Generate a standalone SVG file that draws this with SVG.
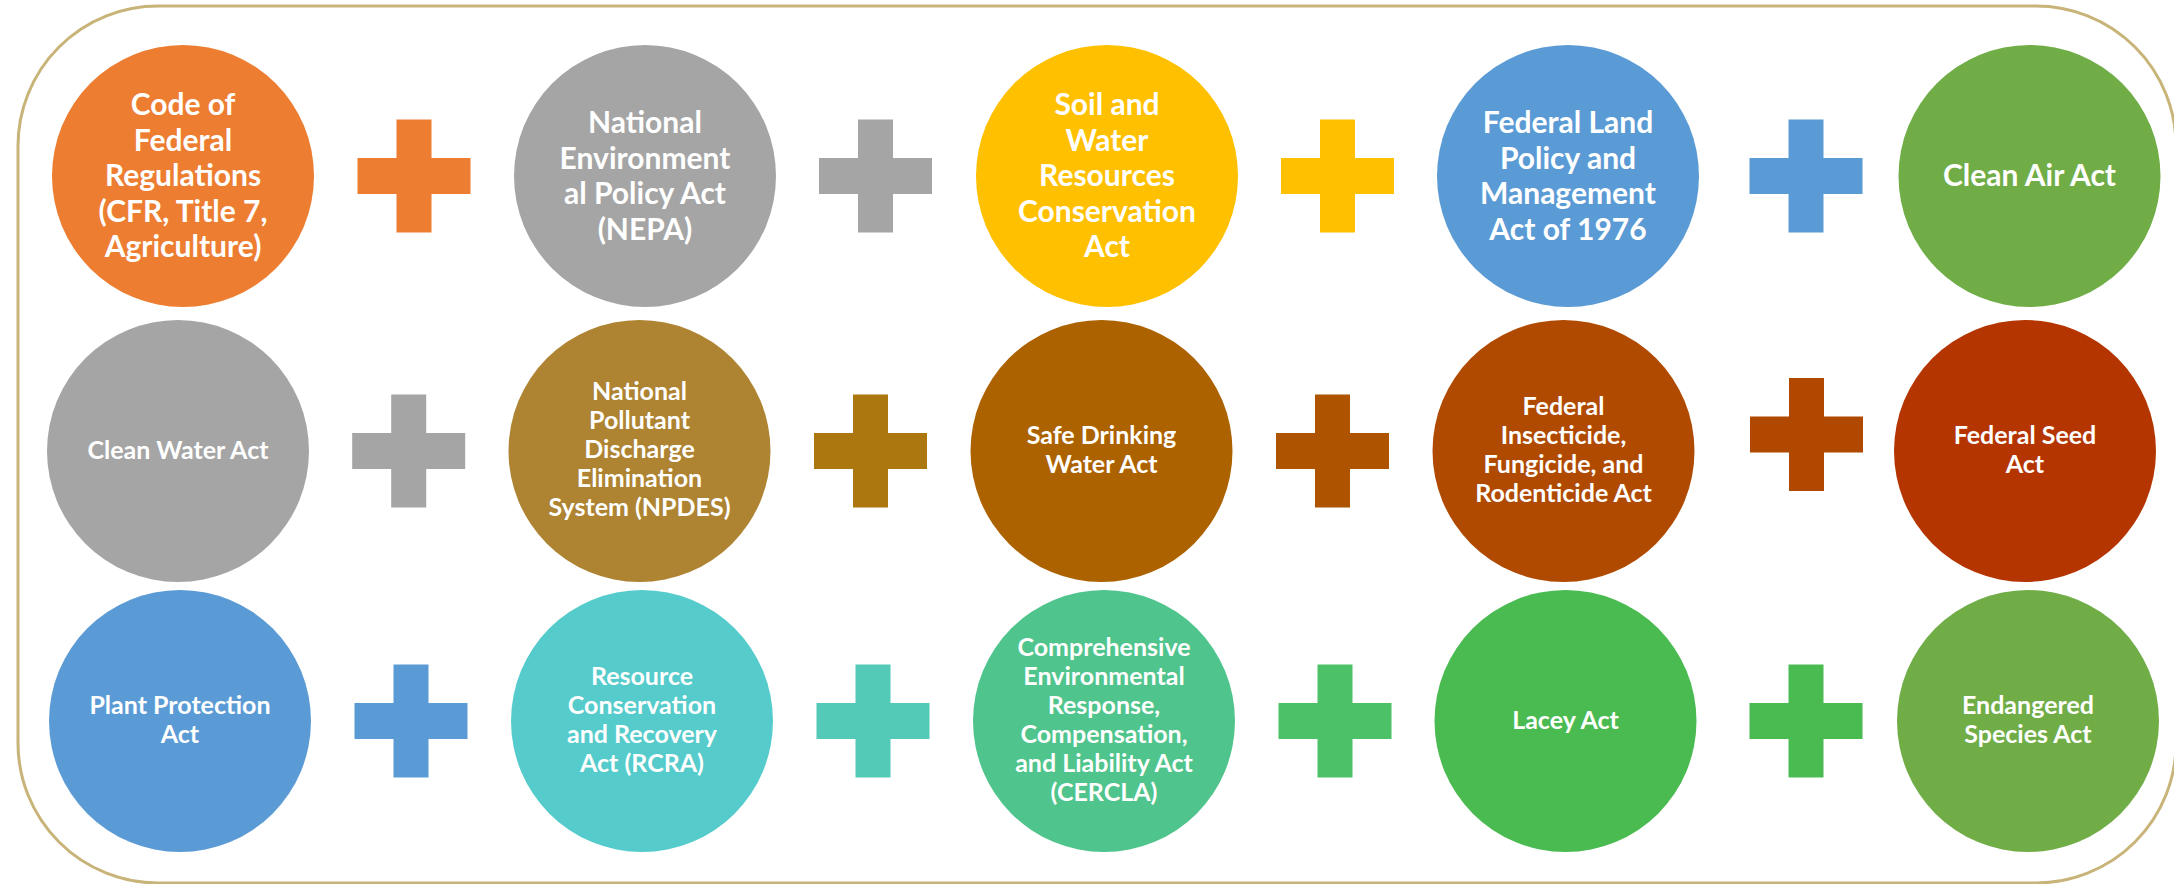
<svg xmlns="http://www.w3.org/2000/svg" xmlns:xlink="http://www.w3.org/1999/xlink" width="2174" height="884" viewBox="0 0 2174 884">
<style>
text{font-family:Lato,"Liberation Sans",sans-serif;font-weight:bold;fill:#ffffff;text-anchor:middle}
.big{font-size:30px}
.sm{font-size:25px}
</style>
<defs>
<path id="plus" d="M-17.5,-56.5H17.5V-18H56.5V18H17.5V56.5H-17.5V18H-56.5V-18H-17.5Z"/>
</defs>
<rect x="18" y="6" width="2158" height="877" rx="140" ry="140" fill="#ffffff" stroke="#C8B478" stroke-width="3"/>
<g id="connectors">
<use xlink:href="#plus" x="414" y="176" fill="#ED7D31"/>
<use xlink:href="#plus" x="875.5" y="176" fill="#A5A5A5"/>
<use xlink:href="#plus" x="1337.5" y="176" fill="#FFC000"/>
<use xlink:href="#plus" x="1806" y="176" fill="#5B9BD5"/>
<use xlink:href="#plus" x="408.7" y="451" fill="#A5A5A5"/>
<use xlink:href="#plus" x="870.5" y="451" fill="#AD770F"/>
<use xlink:href="#plus" x="1332.5" y="451" fill="#AE5300"/>
<use xlink:href="#plus" x="1806.5" y="434.5" fill="#B04800"/>
<use xlink:href="#plus" x="411" y="721" fill="#5B9BD5"/>
<use xlink:href="#plus" x="873" y="721" fill="#53CAB8"/>
<use xlink:href="#plus" x="1335" y="721" fill="#4CC168"/>
<use xlink:href="#plus" x="1806" y="721" fill="#4ABB51"/>
</g>
<g id="n1"><circle cx="183" cy="176" r="131" fill="#ED7D31"/>
<text class="big" x="183"><tspan x="183" y="115">Code of</tspan><tspan x="183" y="150.5">Federal</tspan><tspan x="183" y="186">Regulations</tspan><tspan x="183" y="221.5">(CFR, Title 7,</tspan><tspan x="183" y="257">Agriculture)</tspan></text></g>
<g id="n2"><circle cx="645" cy="176" r="131" fill="#A5A5A5"/>
<text class="big"><tspan x="645" y="133">National</tspan><tspan x="645" y="168.5">Environment</tspan><tspan x="645" y="204">al Policy Act</tspan><tspan x="645" y="239.5">(NEPA)</tspan></text></g>
<g id="n3"><circle cx="1107" cy="176" r="131" fill="#FFC000"/>
<text class="big"><tspan x="1107" y="115">Soil and</tspan><tspan x="1107" y="150.5">Water</tspan><tspan x="1107" y="186">Resources</tspan><tspan x="1107" y="221.5">Conservation</tspan><tspan x="1107" y="257">Act</tspan></text></g>
<g id="n4"><circle cx="1568" cy="176" r="131" fill="#5B9BD5"/>
<text class="big"><tspan x="1568" y="133">Federal Land</tspan><tspan x="1568" y="168.5">Policy and</tspan><tspan x="1568" y="204">Management</tspan><tspan x="1568" y="239.5">Act of 1976</tspan></text></g>
<g id="n5"><circle cx="2029.5" cy="176" r="131" fill="#70AD47"/>
<text class="big" x="2029.5" y="186">Clean Air Act</text></g>
<g id="n6"><circle cx="178" cy="451" r="131" fill="#A5A5A5"/>
<text class="sm" x="178" y="459">Clean Water Act</text></g>
<g id="n7"><circle cx="639.5" cy="451" r="131" fill="#AE8331"/>
<text class="sm"><tspan x="639.5" y="400">National</tspan><tspan x="639.5" y="429">Pollutant</tspan><tspan x="639.5" y="458">Discharge</tspan><tspan x="639.5" y="487">Elimination</tspan><tspan x="639.5" y="516">System (NPDES)</tspan></text></g>
<g id="n8"><circle cx="1101.5" cy="451" r="131" fill="#AD6200"/>
<text class="sm"><tspan x="1101.5" y="444">Safe Drinking</tspan><tspan x="1101.5" y="473">Water Act</tspan></text></g>
<g id="n9"><circle cx="1563.5" cy="451" r="131" fill="#B04A00"/>
<text class="sm"><tspan x="1563.5" y="414.5">Federal</tspan><tspan x="1563.5" y="443.5">Insecticide,</tspan><tspan x="1563.5" y="472.5">Fungicide, and</tspan><tspan x="1563.5" y="501.5">Rodenticide Act</tspan></text></g>
<g id="n10"><circle cx="2025" cy="451" r="131" fill="#B43500"/>
<text class="sm"><tspan x="2025" y="444">Federal Seed</tspan><tspan x="2025" y="473">Act</tspan></text></g>
<g id="n11"><circle cx="180" cy="721" r="131" fill="#5B9BD5"/>
<text class="sm"><tspan x="180" y="714">Plant Protection</tspan><tspan x="180" y="743">Act</tspan></text></g>
<g id="n12"><circle cx="642" cy="721" r="131" fill="#55CBCB"/>
<text class="sm"><tspan x="642" y="685">Resource</tspan><tspan x="642" y="714">Conservation</tspan><tspan x="642" y="743">and Recovery</tspan><tspan x="642" y="772">Act (RCRA)</tspan></text></g>
<g id="n13"><circle cx="1104" cy="721" r="131" fill="#4FC48C"/>
<text class="sm"><tspan x="1104" y="656">Comprehensive</tspan><tspan x="1104" y="685">Environmental</tspan><tspan x="1104" y="714">Response,</tspan><tspan x="1104" y="743">Compensation,</tspan><tspan x="1104" y="772">and Liability Act</tspan><tspan x="1104" y="801">(CERCLA)</tspan></text></g>
<g id="n14"><circle cx="1565.5" cy="721" r="131" fill="#4ABB51"/>
<text class="sm" x="1565.5" y="729">Lacey Act</text></g>
<g id="n15"><circle cx="2028" cy="721" r="131" fill="#70AD47"/>
<text class="sm"><tspan x="2028" y="714">Endangered</tspan><tspan x="2028" y="743">Species Act</tspan></text></g>
</svg>
